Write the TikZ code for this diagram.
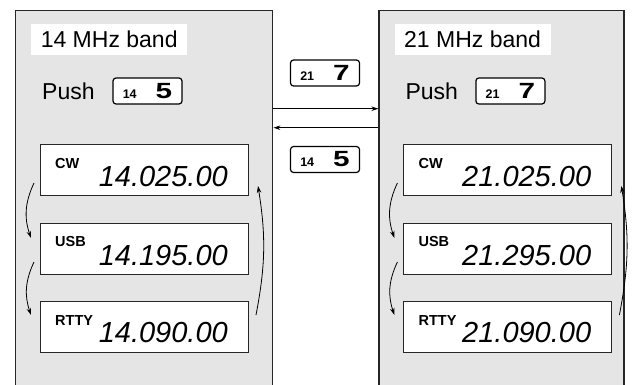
\documentclass[tikz,border=0pt]{standalone}
\usepackage{fontspec}
\setmainfont{Liberation Sans}
\usetikzlibrary{positioning, arrows.meta}

\newcommand{\tecla}[2]{{\fontsize{12.5}{12.5}\selectfont\bfseries #1}\hspace{19pt}\scalebox{1.35}[1]{\fontsize{22}{22}\selectfont\bfseries #2}}

\begin{document}
\begin{tikzpicture}[x=1pt, y=-1pt, >={Stealth[length=7pt, width=4.5pt]}]
        % Estilos
        \tikzstyle{banda} = [draw=black!85, line width=1.4pt, fill=black!10, rectangle, minimum height=390pt, inner sep=0pt]
        \tikzstyle{titulo} = [fill=white, rectangle, minimum width=156pt, minimum height=31pt, inner sep=0pt, anchor=north west, font=\fontsize{23}{23}\selectfont]
        \tikzstyle{pulsar} = [anchor=base west, inner sep=0pt, font=\fontsize{23}{23}\selectfont]
        \tikzstyle{tecla} = [draw, line width=1.2pt, rectangle, rounded corners=3pt, fill=white, minimum width=69pt, minimum height=26pt, inner sep=0pt]
        \tikzstyle{pantalla} = [draw=black!85, line width=1pt, rectangle, fill=white, minimum width=208pt, minimum height=51pt, inner sep=0pt]
        \tikzstyle{modo} = [anchor=base west, inner sep=0pt, font=\fontsize{14.5}{14.5}\selectfont\bfseries]
        \tikzstyle{frecuencia} = [anchor=base east, inner sep=0pt, font=\fontsize{29}{29}\selectfont\itshape]
        \tikzstyle{giro} = [->, line width=0.8pt, bend right=22]

        \useasboundingbox (0,0) rectangle (635,385);
        \clip (0,0) rectangle (635,385);

        % Bandas
        \node[banda, minimum width=257pt, anchor=north west] (bandL) at (15,10) {};
        \node[banda, minimum width=245pt, right=105pt of bandL] (bandR) {};

        % Banda de 14 MHz
        \node[titulo] (tit14) at ([xshift=16pt, yshift=-14pt]bandL.north west) {14 MHz band};
        \node[pulsar] (push14) at ([xshift=27pt, yshift=-90pt]bandL.north west) {Push};
        \node[tecla] (key14) at ([xshift=132.5pt, yshift=-81pt]bandL.north west) {\tecla{14}{5}};
        \node[pantalla, anchor=north west] (cw14) at ([xshift=25pt, yshift=-134pt]bandL.north west) {};
        \node[pantalla, below=27pt of cw14] (usb14) {};
        \node[pantalla, below=26pt of usb14] (rtty14) {};

        \node[modo] (mcw14) at ([xshift=15pt, yshift=28pt]cw14.south west) {CW};
        \node[frecuencia] (fcw14) at ([xshift=-21pt, yshift=9pt]cw14.south east) {14.025.00};
        \node[modo] (musb14) at ([xshift=15pt, yshift=29pt]usb14.south west) {USB};
        \node[frecuencia] (fusb14) at ([xshift=-21pt, yshift=10pt]usb14.south east) {14.195.00};
        \node[modo] (mrtty14) at ([xshift=15pt, yshift=28pt]rtty14.south west) {RTTY};
        \node[frecuencia] (frtty14) at ([xshift=-21pt, yshift=11pt]rtty14.south east) {14.090.00};

        % Banda de 21 MHz
        \node[titulo] (tit21) at ([xshift=16pt, yshift=-14pt]bandR.north west) {21 MHz band};
        \node[pulsar] (push21) at ([xshift=27pt, yshift=-90pt]bandR.north west) {Push};
        \node[tecla] (key21) at ([xshift=132pt, yshift=-81pt]bandR.north west) {\tecla{21}{7}};
        \node[pantalla, anchor=north west] (cw21) at ([xshift=25pt, yshift=-134pt]bandR.north west) {};
        \node[pantalla, below=27pt of cw21] (usb21) {};
        \node[pantalla, below=26pt of usb21] (rtty21) {};

        \node[modo] (mcw21) at ([xshift=15pt, yshift=28pt]cw21.south west) {CW};
        \node[frecuencia] (fcw21) at ([xshift=-21pt, yshift=9pt]cw21.south east) {21.025.00};
        \node[modo] (musb21) at ([xshift=15pt, yshift=29pt]usb21.south west) {USB};
        \node[frecuencia] (fusb21) at ([xshift=-21pt, yshift=10pt]usb21.south east) {21.295.00};
        \node[modo] (mrtty21) at ([xshift=15pt, yshift=28pt]rtty21.south west) {RTTY};
        \node[frecuencia] (frtty21) at ([xshift=-21pt, yshift=11pt]rtty21.south east) {21.090.00};

        % Teclas entre bandas
        \node[tecla] (keyTo21) at (325,73) {\tecla{21}{7}};
        \node[tecla] (keyTo14) at (325,159.5) {\tecla{14}{5}};

        % Flechas
        \draw[->, line width=0.8pt] ([yshift=97pt]bandL.east) -- ([yshift=97pt]bandR.west);
        \draw[->, line width=0.8pt] ([yshift=78pt]bandR.west) -- ([yshift=78pt]bandL.east);

        \draw[giro] ([xshift=-6pt, yshift=13pt]cw14.south west) to ([xshift=-9pt, yshift=-15pt]usb14.north west);
        \draw[giro] ([xshift=-6pt, yshift=13pt]usb14.south west) to ([xshift=-9pt, yshift=-14pt]rtty14.north west);
        \draw[giro, bend right=10] ([xshift=7pt, yshift=-14pt]rtty14.north east) to ([xshift=9pt, yshift=10pt]cw14.south east);

        \draw[giro] ([xshift=-6pt, yshift=13pt]cw21.south west) to ([xshift=-9pt, yshift=-15pt]usb21.north west);
        \draw[giro] ([xshift=-6pt, yshift=13pt]usb21.south west) to ([xshift=-9pt, yshift=-14pt]rtty21.north west);
        \draw[giro, bend right=10] ([xshift=7pt, yshift=-14pt]rtty21.north east) to ([xshift=9pt, yshift=10pt]cw21.south east);
    \end{tikzpicture}
\end{document}
